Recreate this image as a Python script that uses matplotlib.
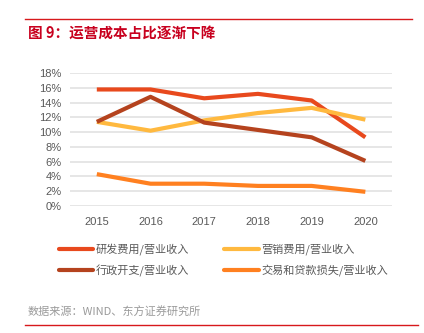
import matplotlib
matplotlib.use('Agg')
import matplotlib.pyplot as plt
from matplotlib.lines import Line2D

plt.rcParams['font.family'] = ['Noto Sans CJK SC', 'DejaVu Sans']

years = ['2015', '2016', '2017', '2018', '2019', '2020']
rd_ratio = [15.8, 15.8, 14.6, 15.2, 14.3, 9.3]
sales_ratio = [11.4, 10.2, 11.6, 12.6, 13.3, 11.7]
admin_ratio = [11.4, 14.8, 11.3, 10.3, 9.3, 6.1]
loss_ratio = [4.3, 3.0, 3.0, 2.7, 2.7, 1.9]

series = [
    ('研发费用/营业收入', rd_ratio, '#E8491D'),
    ('营销费用/营业收入', sales_ratio, '#FFB93F'),
    ('行政开支/营业收入', admin_ratio, '#B5431E'),
    ('交易和贷款损失/营业收入', loss_ratio, '#FF8020'),
]

fig = plt.figure(figsize=(4.24, 3.33), dpi=100)
ax = fig.add_axes([0.165, 0.382, 0.76, 0.398])

x = list(range(len(years)))
handles = []
for name, vals, color in series:
    ax.plot(x, vals, color=color, lw=3, solid_capstyle='butt', zorder=3)
    handles.append(Line2D([], [], color=color, lw=3, solid_capstyle='round', label=name))

ax.set_xlim(-0.5, 5.5)
ax.set_ylim(0, 18)
ax.set_yticks(range(0, 19, 2))
ax.set_yticklabels([f'{v}%' for v in range(0, 19, 2)], family='Liberation Sans')
ax.set_xticks(x)
ax.set_xticklabels(years, family='Liberation Sans')
ax.tick_params(length=0, labelsize=8, colors='#595959', pad=6)
ax.tick_params(axis='x', pad=8)
ax.grid(axis='y', color='#E2E2E2', lw=1.2)
ax.set_axisbelow(True)
for s in ax.spines.values():
    s.set_visible(False)

# legend order: row by row
order = [0, 2, 1, 3]
fig.legend([handles[i] for i in order], [series[i][0] for i in order],
           ncol=2, loc='upper left', bbox_to_anchor=(0.115, 0.30),
           frameon=False, fontsize=8, handlelength=3.1, handletextpad=0.2,
           columnspacing=3.2, labelspacing=0.85, labelcolor='#595959')

# header and footer
fig.add_artist(Line2D([0.059, 0.972], [1 - 19 / 333] * 2, color='#D7191C', lw=1))
fig.text(0.066, 1 - 33 / 333, '图 9：运营成本占比逐渐下降', color='#C8001E',
         fontsize=10.5, fontweight='bold', va='center')
fig.add_artist(Line2D([0.059, 0.985], [1 - 325 / 333] * 2, color='#D7191C', lw=1))
fig.text(0.066, 1 - 312 / 333, '数据来源：WIND、东方证券研究所', color='#9A9A9A',
         fontsize=8, va='center')

fig.savefig('out.png', dpi=100)
